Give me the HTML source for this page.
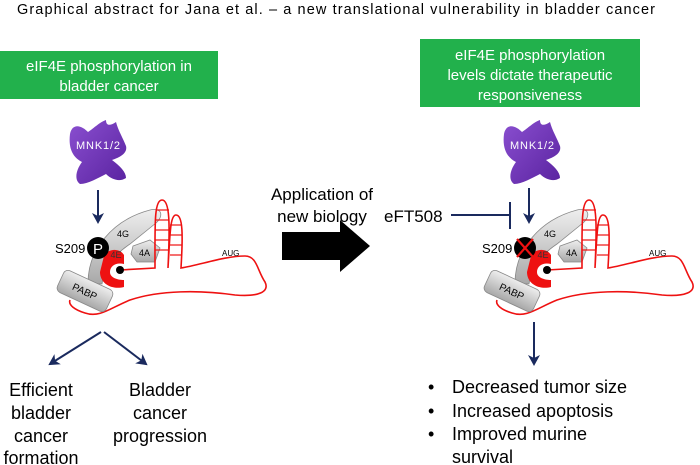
<!DOCTYPE html>
<html><head><meta charset="utf-8"><style>
html,body{margin:0;padding:0;background:#fff;}
svg{display:block;font-family:"Liberation Sans",Arial,sans-serif;}
</style></head><body>
<svg width="700" height="465" viewBox="0 0 700 465" xmlns="http://www.w3.org/2000/svg">
<defs>
<marker id="ah" markerWidth="12" markerHeight="12" refX="9" refY="6" orient="auto" markerUnits="userSpaceOnUse">
<path d="M0,0 L11,6 L0,12 L3,6 Z" fill="#1a2a5e"/></marker>
<linearGradient id="gr" x1="0" y1="0" x2="0" y2="1"><stop offset="0" stop-color="#eee"/><stop offset="1" stop-color="#a8a8a8"/></linearGradient>
<linearGradient id="pu" x1="0" y1="0" x2="1" y2="1"><stop offset="0" stop-color="#8a4fd0"/><stop offset="1" stop-color="#5a23a0"/></linearGradient>
<g id="mnk">
<path d="M4,14 C6,4 14,4 22,12 C28,8 34,2 40,0 C40,6 44,6 50,2 C52,10 56,16 60,26 C62,34 52,38 46,40 C54,46 60,52 60,58 C54,62 46,60 40,54 C32,58 22,64 14,64 C8,60 10,50 16,42 C8,38 2,30 4,14 Z" fill="url(#pu)"/>
</g>
<g id="cx">
<path d="M88,283 C88,250 112,220 150,210 C162,207 164,216 156,223 L130,244 C112,256 104,270 102,284 Z" fill="url(#gr)" stroke="#888" stroke-width="0.8"/>
<path d="M133,246 L150,240 L160,248 L155,262 L137,262 L131,254 Z" fill="url(#gr)" stroke="#888" stroke-width="0.8"/>
<text x="117" y="237" font-size="9">4G</text>
<text x="139" y="256" font-size="9">4A</text>
<path d="M104,256 C108,248 120,248 124,255 L124,264 C116,262 110,266 110,272 C110,278 118,280 124,280 L124,287 C112,290 100,284 100,272 Z" fill="#e11" />
<path d="M120,270 L155,268 C155,225 154,200 162,200 C170,200 170,225 168,268 C170,235 170,215 176,215 C183,215 183,235 181,268 C200,265 225,256 245,256 C257,256 257,270 265,282 C270,292 258,297 235,295 C200,290 160,290 130,300 C110,308 100,318 85,313 C75,310 68,305 70,300" fill="none" stroke="#e11" stroke-width="1.6"/>
<g stroke="#e11" stroke-width="1.2">
<line x1="156" y1="210" x2="169" y2="210"/><line x1="156" y1="220" x2="169" y2="220"/><line x1="155" y1="230" x2="169" y2="230"/><line x1="155" y1="240" x2="169" y2="240"/><line x1="155" y1="250" x2="168" y2="250"/>
<line x1="170" y1="225" x2="182" y2="225"/><line x1="170" y1="235" x2="182" y2="235"/><line x1="170" y1="245" x2="182" y2="245"/><line x1="170" y1="255" x2="181" y2="255"/>
</g>
<text x="222" y="256" font-size="8">AUG</text>
<circle cx="120" cy="270" r="4" fill="#000"/>
<g transform="translate(85,291) rotate(25)"><rect x="-27" y="-12" width="54" height="24" rx="5" fill="url(#gr)" stroke="#888" stroke-width="0.8"/><text x="0" y="4" font-size="10" text-anchor="middle">PABP</text></g>
<text x="116" y="258" font-size="9" fill="#333" text-anchor="middle">4E</text>
</g>
</defs>
<text x="17" y="14" font-size="14.5" textLength="638">Graphical abstract for Jana et al. – a new translational vulnerability in bladder cancer</text>
<rect x="0" y="51" width="218" height="48" fill="#22b14c"/>
<text fill="#fff" font-size="15" text-anchor="middle"><tspan x="109" y="71">eIF4E phosphorylation in</tspan><tspan x="109" y="91">bladder cancer</tspan></text>
<rect x="420" y="39" width="220" height="68" fill="#22b14c"/>
<text fill="#fff" font-size="15" text-anchor="middle"><tspan x="530" y="60">eIF4E phosphorylation</tspan><tspan x="530" y="80">levels dictate therapeutic</tspan><tspan x="530" y="100">responsiveness</tspan></text>
<g transform="translate(66,120)"><use href="#mnk"/><text x="32" y="29" font-size="11" fill="#fff" text-anchor="middle" textLength="44">MNK1/2</text></g>
<g transform="translate(500,120)"><use href="#mnk"/><text x="32" y="29" font-size="11" fill="#fff" text-anchor="middle" textLength="44">MNK1/2</text></g>
<line x1="98" y1="190" x2="98" y2="222" stroke="#1a2a5e" stroke-width="2" marker-end="url(#ah)"/>
<line x1="529" y1="188" x2="529" y2="222" stroke="#1a2a5e" stroke-width="2" marker-end="url(#ah)"/>
<use href="#cx"/>
<circle cx="98" cy="248" r="11" fill="#000"/><text x="98" y="254" font-size="15" fill="#fff" text-anchor="middle">P</text>
<text x="55" y="253" font-size="13">S209</text>
<use href="#cx" transform="translate(427,0)"/>
<circle cx="525" cy="248" r="11" fill="#000"/>
<path d="M517,239 L533,257 M533,239 L517,257" stroke="#e11" stroke-width="2.2"/>
<text x="482" y="253" font-size="13">S209</text>
<text font-size="17" text-anchor="middle"><tspan x="322" y="200">Application of</tspan><tspan x="322" y="222">new biology</tspan></text>
<path d="M282,232 L340,232 L340,220 L370,246 L340,272 L340,260 L282,260 Z" fill="#000"/>
<text x="384" y="222" font-size="17">eFT508</text>
<line x1="451" y1="215" x2="510" y2="215" stroke="#1a2a5e" stroke-width="2"/>
<line x1="510" y1="202" x2="510" y2="229" stroke="#1a2a5e" stroke-width="2"/>
<line x1="101" y1="332" x2="50" y2="364" stroke="#1a2a5e" stroke-width="2" marker-end="url(#ah)"/>
<line x1="104" y1="332" x2="146" y2="364" stroke="#1a2a5e" stroke-width="2" marker-end="url(#ah)"/>
<line x1="534" y1="322" x2="534" y2="364" stroke="#1a2a5e" stroke-width="2" marker-end="url(#ah)"/>
<text font-size="18" text-anchor="middle"><tspan x="41" y="396">Efficient</tspan><tspan x="41" y="419">bladder</tspan><tspan x="41" y="442">cancer</tspan><tspan x="41" y="464">formation</tspan></text>
<text font-size="18" text-anchor="middle"><tspan x="160" y="396">Bladder</tspan><tspan x="160" y="419">cancer</tspan><tspan x="160" y="442">progression</tspan></text>
<g font-size="18"><text x="428" y="393">•</text><text x="428" y="417">•</text><text x="428" y="440">•</text>
<text x="452" y="393">Decreased tumor size</text><text x="452" y="417">Increased apoptosis</text><text x="452" y="440">Improved murine</text><text x="452" y="463">survival</text></g>
</svg>
</body></html>
